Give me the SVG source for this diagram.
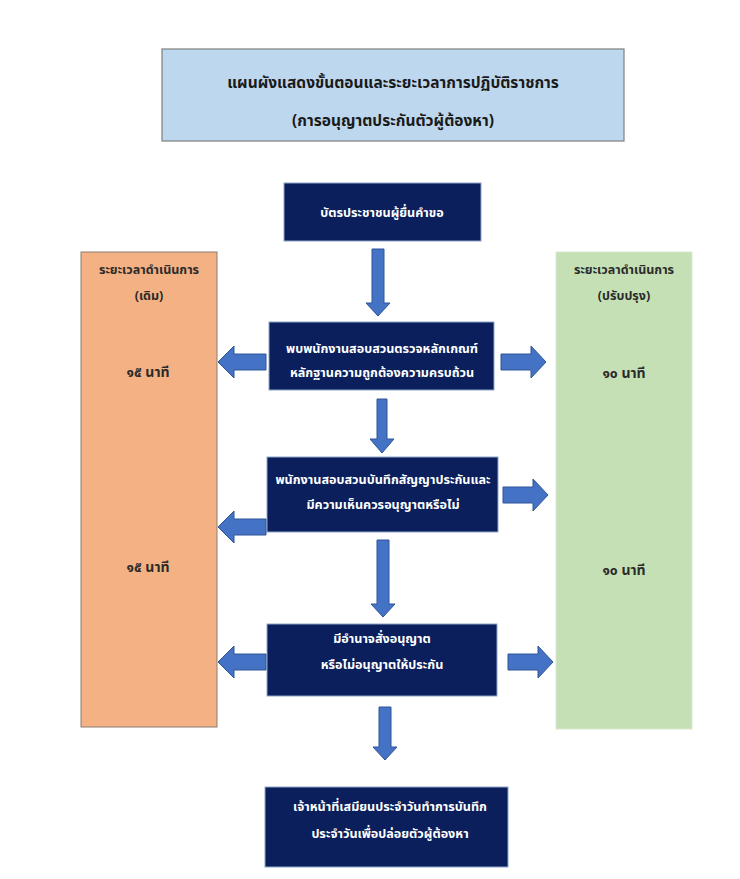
<svg xmlns="http://www.w3.org/2000/svg" width="740" height="879" viewBox="0 0 740 879">
<style>
text{font-family:"Noto Sans Thai","Noto Sans","DejaVu Sans",sans-serif;font-weight:bold;text-anchor:middle}
.title{fill:#BDD7EE;stroke:#7F7F7F;stroke-width:1.2}
.title-t{font-size:15.5px;fill:#1a1a1a}
.node{fill:#0A1F5C;stroke:#8FA6C8;stroke-width:1}
.node-t{font-size:12.6px;fill:#ffffff}
.col-old{fill:#F4B183;stroke:#8a7d72;stroke-width:1}
.col-new{fill:#C5E0B4;stroke:#d9e8cf;stroke-width:1}
.col-t{font-size:12.5px;fill:#2b2b2b}
.num{font-size:14px}
.arr{fill:#4472C4;stroke:#2F5597;stroke-width:1}
</style>
<rect width="740" height="879" fill="#ffffff"/>

<g id="title">
<rect class="title" x="162" y="49" width="462" height="92"/>
<text class="title-t" x="393" y="88">แผนผังแสดงขั้นตอนและระยะเวลาการปฏิบัติราชการ</text>
<text class="title-t" x="393" y="126">(การอนุญาตประกันตัวผู้ต้องหา)</text>
</g>

<g id="col-old">
<rect class="col-old" x="81" y="252" width="136" height="475"/>
<text class="col-t" x="149" y="274">ระยะเวลาดำเนินการ</text>
<text class="col-t" x="149" y="300">(เดิม)</text>
<text class="col-t num" x="148" y="377">๑๕ นาที</text>
<text class="col-t num" x="148" y="572">๑๕ นาที</text>
</g>

<g id="col-new">
<rect class="col-new" x="556" y="252" width="136" height="477"/>
<text class="col-t" x="624" y="274">ระยะเวลาดำเนินการ</text>
<text class="col-t" x="624" y="300">(ปรับปรุง)</text>
<text class="col-t num" x="624" y="378">๑๐ นาที</text>
<text class="col-t num" x="624" y="575">๑๐ นาที</text>
</g>

<g id="n1">
<rect class="node" x="284" y="183" width="197" height="58"/>
<text class="node-t" x="382" y="217">บัตรประชาชนผู้ยื่นคำขอ</text>
</g>

<g id="n2">
<rect class="node" x="269" y="322" width="225" height="68"/>
<text class="node-t" x="382" y="353">พบพนักงานสอบสวนตรวจหลักเกณฑ์</text>
<text class="node-t" x="382" y="377">หลักฐานความถูกต้องความครบถ้วน</text>
</g>

<g id="n3">
<rect class="node" x="267" y="457" width="231" height="75"/>
<text class="node-t" x="383" y="484">พนักงานสอบสวนบันทึกสัญญาประกันและ</text>
<text class="node-t" x="383" y="509">มีความเห็นควรอนุญาตหรือไม่</text>
</g>

<g id="n4">
<rect class="node" x="267" y="624" width="230" height="72"/>
<text class="node-t" x="382" y="643">มีอำนาจสั่งอนุญาต</text>
<text class="node-t" x="382" y="669">หรือไม่อนุญาตให้ประกัน</text>
</g>

<g id="n5">
<rect class="node" x="265" y="787" width="243" height="80"/>
<text class="node-t" x="390" y="811">เจ้าหน้าที่เสมียนประจำวันทำการบันทึก</text>
<text class="node-t" x="390" y="838">ประจำวันเพื่อปล่อยตัวผู้ต้องหา</text>
</g>

<g id="connectors">
<polygon class="arr" points="372,249 384,249 384,303 390,303 378,316 366,303 372,303"/>
<polygon class="arr" points="377,399 387,399 387,439 394,439 382,453 370,439 377,439"/>
<polygon class="arr" points="377,540 389,540 389,604 395,604 383,617 371,604 377,604"/>
<polygon class="arr" points="379,707 391,707 391,747 397,747 385,760 373,747 379,747"/>
<polygon class="arr" points="266,354 234,354 234,346 218,362 234,378 234,370 266,370"/>
<polygon class="arr" points="266,519 234,519 234,511 218,527 234,543 234,535 266,535"/>
<polygon class="arr" points="266,654 234,654 234,646 218,662 234,678 234,670 266,670"/>
<polygon class="arr" points="501,354 531,354 531,346 546,362 531,378 531,370 501,370"/>
<polygon class="arr" points="503,487 533,487 533,479 548,495 533,511 533,503 503,503"/>
<polygon class="arr" points="508,654 538,654 538,646 553,662 538,678 538,670 508,670"/>
</g>
</svg>
